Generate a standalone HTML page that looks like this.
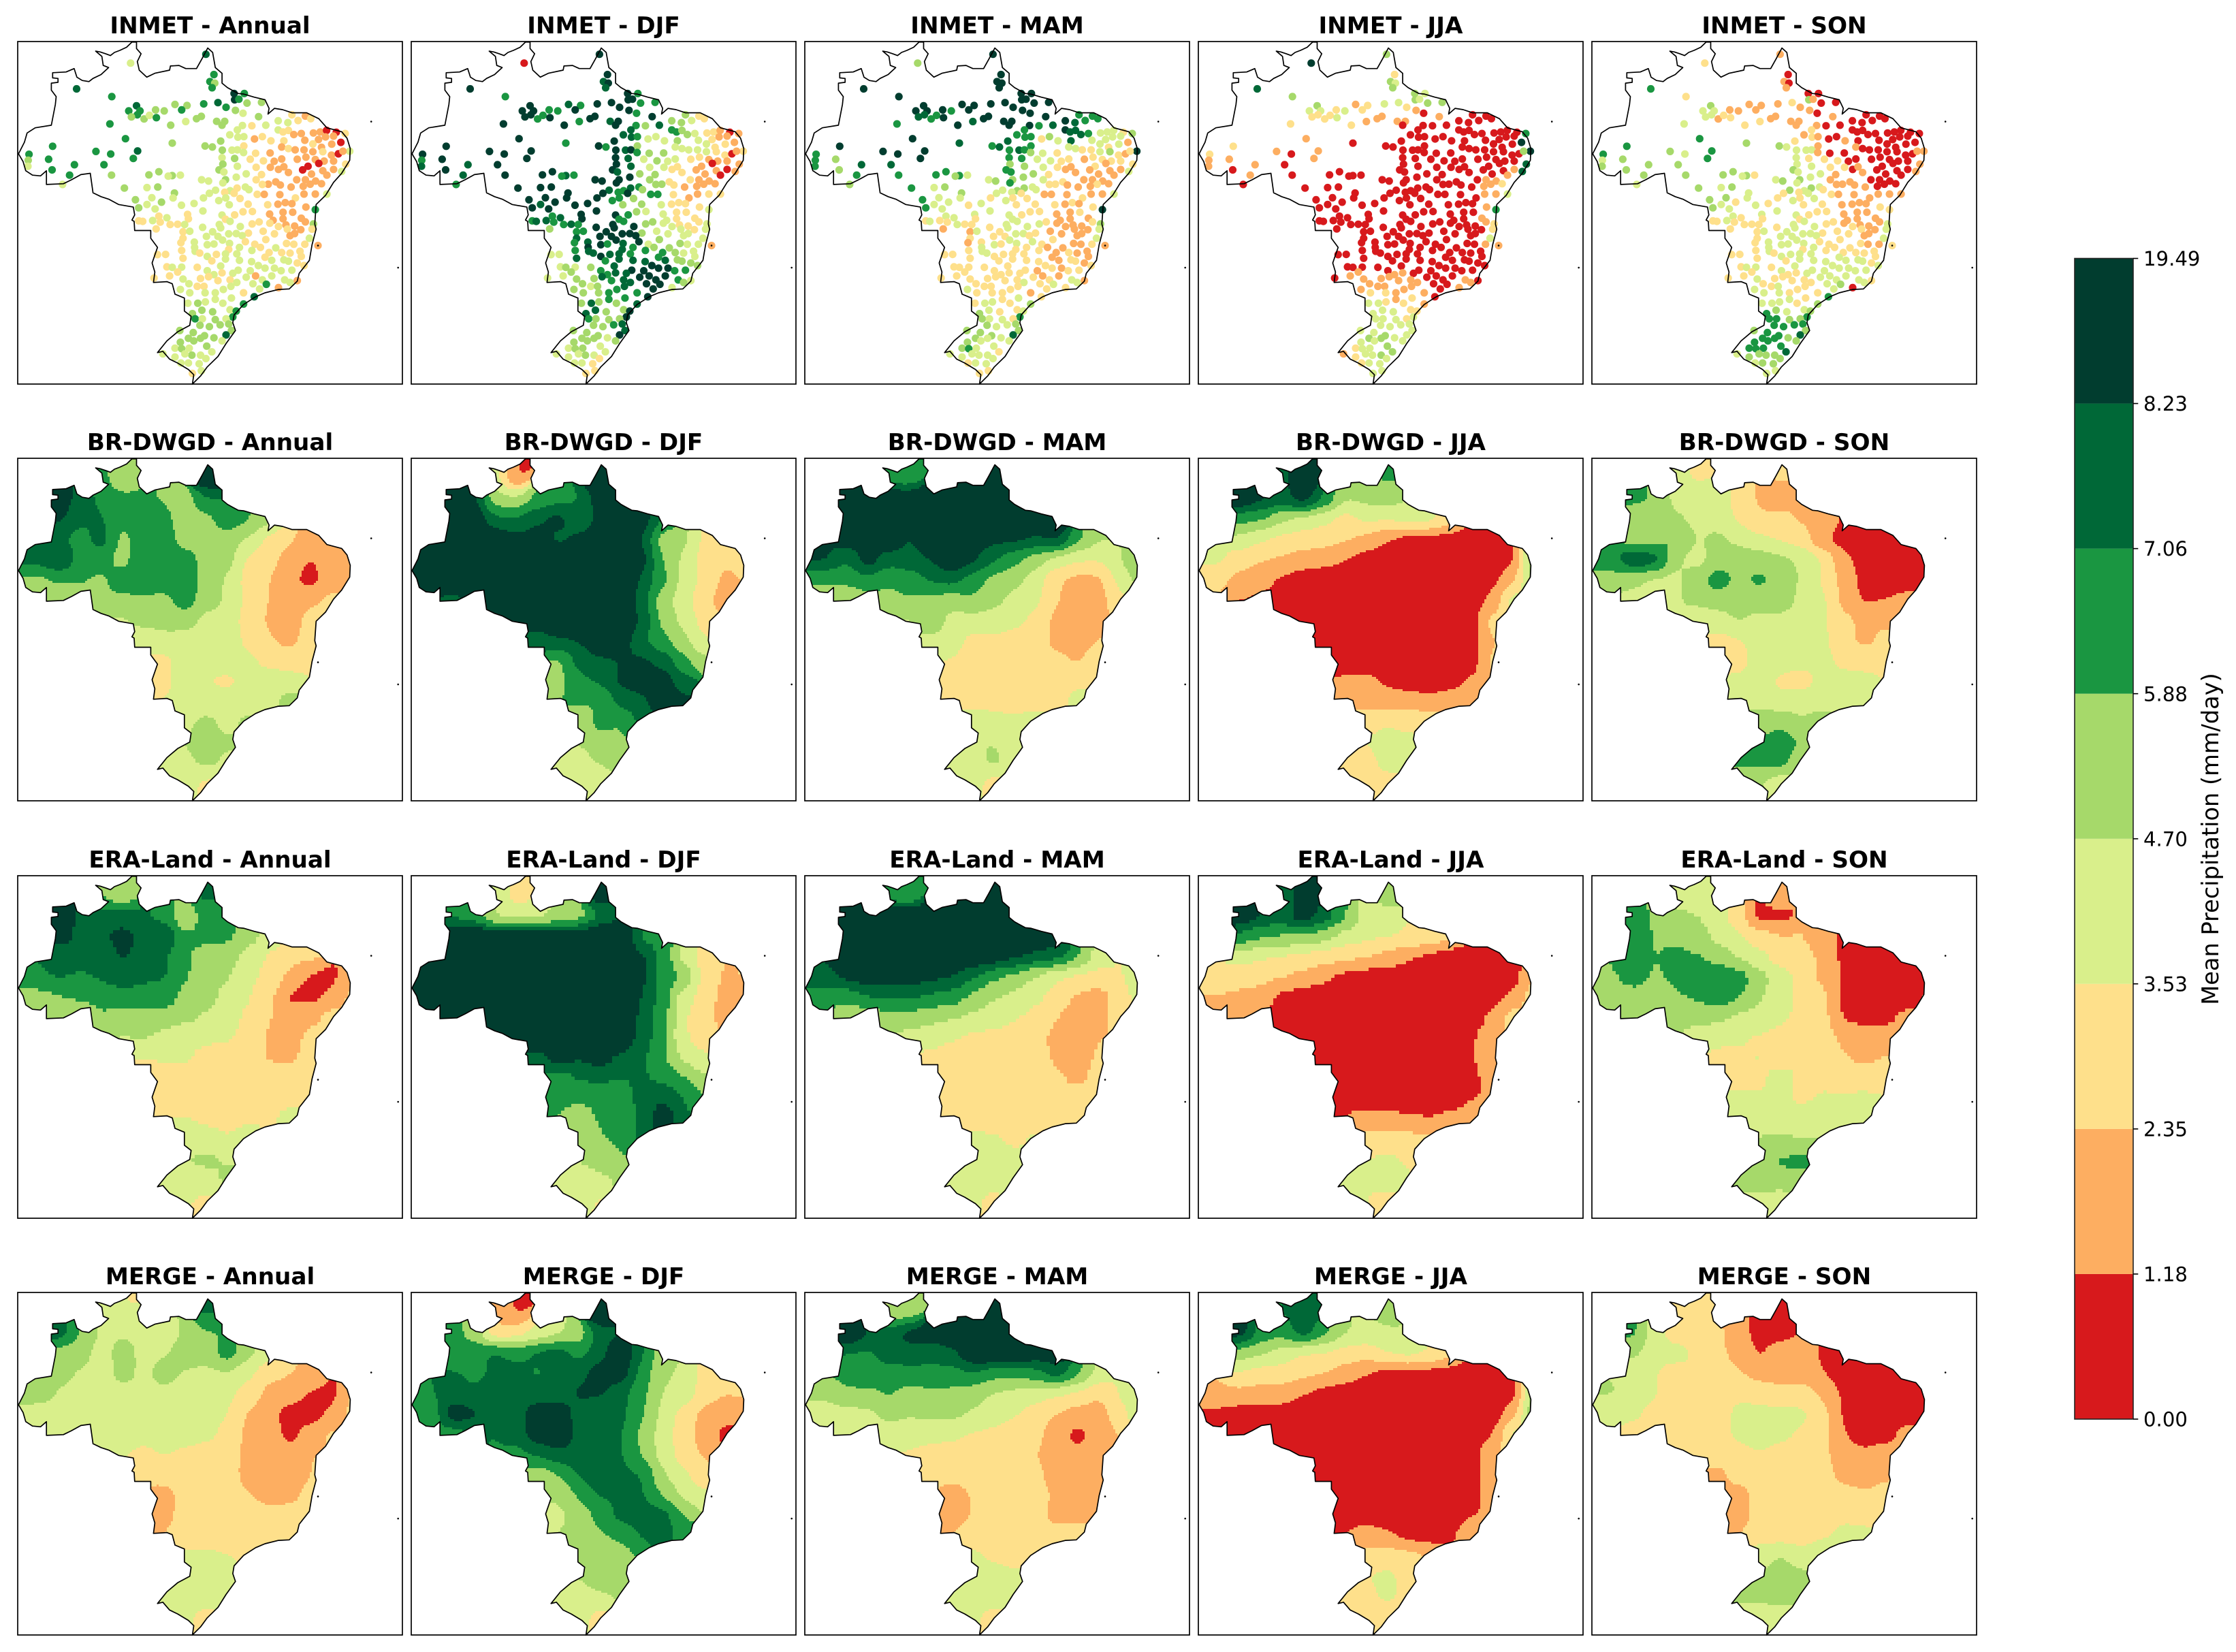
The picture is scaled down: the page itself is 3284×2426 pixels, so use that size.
<!DOCTYPE html>
<html lang="en">
<head>
<meta charset="utf-8">
<title>Mean Precipitation over Brazil</title>
<style>
html,body{margin:0;padding:0;background:#fff}
svg{display:block}
text{font-family:"DejaVu Sans","Liberation Sans",sans-serif;fill:#000}
.t{font-size:34.2px;font-weight:700;text-anchor:middle}
.f{fill:none;stroke:#000;stroke-width:1.7}
</style>
</head>
<body>
<svg id="chart" xmlns="http://www.w3.org/2000/svg" width="3284" height="2426" viewBox="0 0 3284 2426">
<defs>
<clipPath id="brazil-clip"><path id="brazil-clip-path"/></clipPath>
<clipPath id="frame-clip"><rect width="565" height="503"/></clipPath>
</defs>
<rect width="3284" height="2426" fill="#fff"/>

<g transform="translate(26 61)"><text class="t" x="282.5" y="-12">INMET - Annual</text><g id="inmet-annual"></g><rect class="f" width="565" height="503"/></g>
<g transform="translate(604 61)"><text class="t" x="282.5" y="-12">INMET - DJF</text><g id="inmet-djf"></g><rect class="f" width="565" height="503"/></g>
<g transform="translate(1182 61)"><text class="t" x="282.5" y="-12">INMET - MAM</text><g id="inmet-mam"></g><rect class="f" width="565" height="503"/></g>
<g transform="translate(1760 61)"><text class="t" x="282.5" y="-12">INMET - JJA</text><g id="inmet-jja"></g><rect class="f" width="565" height="503"/></g>
<g transform="translate(2338 61)"><text class="t" x="282.5" y="-12">INMET - SON</text><g id="inmet-son"></g><rect class="f" width="565" height="503"/></g>

<g transform="translate(26 673)"><text class="t" x="282.5" y="-12">BR-DWGD - Annual</text><g id="brdwgd-annual"></g><rect class="f" width="565" height="503"/></g>
<g transform="translate(604 673)"><text class="t" x="282.5" y="-12">BR-DWGD - DJF</text><g id="brdwgd-djf"></g><rect class="f" width="565" height="503"/></g>
<g transform="translate(1182 673)"><text class="t" x="282.5" y="-12">BR-DWGD - MAM</text><g id="brdwgd-mam"></g><rect class="f" width="565" height="503"/></g>
<g transform="translate(1760 673)"><text class="t" x="282.5" y="-12">BR-DWGD - JJA</text><g id="brdwgd-jja"></g><rect class="f" width="565" height="503"/></g>
<g transform="translate(2338 673)"><text class="t" x="282.5" y="-12">BR-DWGD - SON</text><g id="brdwgd-son"></g><rect class="f" width="565" height="503"/></g>

<g transform="translate(26 1286)"><text class="t" x="282.5" y="-12">ERA-Land - Annual</text><g id="era-annual"></g><rect class="f" width="565" height="503"/></g>
<g transform="translate(604 1286)"><text class="t" x="282.5" y="-12">ERA-Land - DJF</text><g id="era-djf"></g><rect class="f" width="565" height="503"/></g>
<g transform="translate(1182 1286)"><text class="t" x="282.5" y="-12">ERA-Land - MAM</text><g id="era-mam"></g><rect class="f" width="565" height="503"/></g>
<g transform="translate(1760 1286)"><text class="t" x="282.5" y="-12">ERA-Land - JJA</text><g id="era-jja"></g><rect class="f" width="565" height="503"/></g>
<g transform="translate(2338 1286)"><text class="t" x="282.5" y="-12">ERA-Land - SON</text><g id="era-son"></g><rect class="f" width="565" height="503"/></g>

<g transform="translate(26 1898)"><text class="t" x="282.5" y="-12">MERGE - Annual</text><g id="merge-annual"></g><rect class="f" width="565" height="503"/></g>
<g transform="translate(604 1898)"><text class="t" x="282.5" y="-12">MERGE - DJF</text><g id="merge-djf"></g><rect class="f" width="565" height="503"/></g>
<g transform="translate(1182 1898)"><text class="t" x="282.5" y="-12">MERGE - MAM</text><g id="merge-mam"></g><rect class="f" width="565" height="503"/></g>
<g transform="translate(1760 1898)"><text class="t" x="282.5" y="-12">MERGE - JJA</text><g id="merge-jja"></g><rect class="f" width="565" height="503"/></g>
<g transform="translate(2338 1898)"><text class="t" x="282.5" y="-12">MERGE - SON</text><g id="merge-son"></g><rect class="f" width="565" height="503"/></g>

<g id="colorbar"></g>
<text transform="translate(3258 1232) rotate(-90)" text-anchor="middle" style="font-size:33.6px">Mean Precipitation (mm/day)</text>
</svg>

<script>
// colour scale
const levelBounds=[0,1.18,2.35,3.53,4.70,5.88,7.06,8.23,19.49];
const colorbarTicks=["0.00","1.18","2.35","3.53","4.70","5.88","7.06","8.23","19.49"];
const levelColors=["#d7191c","#fdae61","#fee08b","#d9ef8b","#a6d96a","#1a9641","#006837","#013d2f"];

// basemap geography, in projected map units (easting / northing)
const outlineEast=[195,245,275,285,305,330,345,375,403,383,378,355,372,392,410,425,445,470,490,507,507,524,510,517,545,575,630,633,665,690,730,750,772,790,800,825,825,845,862,885,905,945,985,1000,996,1020,1050,1085,1140,1185,1215,1270,1290,1302,1300,1270,1240,1210,1175,1170,1175,1160,1150,1112,1105,1075,1035,985,950,905,870,865,875,840,810,770,745,715,720,700,660,630,605,585,620,660,705,710,685,685,650,640,620,570,575,565,585,560,560,500,498,490,500,495,440,405,375,345,335,300,265,235,172,172,150,120,95,85,68,90,100,130,190,205,208,190,190,215,215,195];
const outlineNorth=[278,275,262,295,308,312,300,285,258,250,215,195,198,205,212,200,192,180,160,160,185,205,235,268,295,280,268,252,250,262,262,225,183,200,258,280,318,335,345,358,360,372,382,415,437,415,420,432,432,455,490,505,530,570,615,665,700,750,785,860,880,940,1000,1050,1080,1110,1112,1125,1140,1170,1210,1240,1270,1320,1370,1410,1445,1476,1440,1420,1395,1380,1350,1355,1310,1275,1250,1215,1195,1145,1130,1090,1082,1085,1045,1010,950,915,885,885,850,845,825,795,785,765,755,740,665,670,690,705,708,655,675,672,655,620,590,545,510,490,480,400,370,345,318,315,300,298];
const islandEast=[1380,1182,1480];
const islandNorth=[466,943,1028];

// rainfall grid: columns present on each grid row (row 1 to 16)
const gridRowColumns=[[4,5,9],[2,3,4,5,6,7,8,9],[2,3,4,5,6,7,8,9,10,11,12],[2,3,4,5,6,7,8,9,10,11,12,13,14],[1,2,3,4,5,6,7,8,9,10,11,12,13,14,15,16],[1,2,3,4,5,6,7,8,9,10,11,12,13,14,15,16],[2,3,4,5,6,7,8,9,10,11,12,13,14,15],[5,6,7,8,9,10,11,12,13,14],[6,7,8,9,10,11,12,13,14],[7,8,9,10,11,12,13,14],[7,8,9,10,11,12,13],[8,9,10,11,12,13],[8,9,10,11],[9,10],[8,9,10],[8,9]];

// gridded precipitation, tenths of mm/day
const brdwgdAnnual=[[62,50,95],[90,78,68,62,60,58,52,70],[85,72,72,60,68,62,52,55,68,60,50],[72,66,76,55,66,66,52,52,52,46,32,24,22],[75,85,65,65,52,72,66,66,53,52,33,26,20,10,22,24],[55,60,60,56,68,72,66,68,53,46,30,24,14,7,20,22],[50,52,56,55,55,55,66,52,46,32,23,17,22,26],[45,52,53,52,43,42,30,22,18,28],[35,42,42,42,41,33,24,20,30],[32,42,40,40,38,32,30,33],[33,40,35,33,38,42,40],[40,40,40,42,44,52],[45,50,44,50],[52,48],[45,50,45],[40,32]];
const brdwgdDJF=[[40,10,100],[100,85,52,50,62,66,70,90],[100,95,72,72,80,88,72,85,100,90,70],[100,100,95,85,90,78,85,95,100,82,52,50,32],[100,100,100,100,100,100,100,100,90,100,88,58,45,30,26,28],[100,100,100,100,100,100,100,100,100,100,80,62,43,32,20,25],[75,90,95,100,100,100,100,100,100,75,52,40,26,18],[85,90,100,100,100,100,80,55,44,30],[75,80,82,95,90,72,62,50,35],[55,75,80,82,85,78,62,50],[55,68,72,85,90,90,75],[60,58,75,78,95,85],[52,62,58,75],[55,58],[42,48,55],[42,35]];
const brdwgdMAM=[[62,62,100],[100,100,100,95,100,100,100,100],[100,100,100,95,100,100,100,100,100,100,95],[90,85,95,80,95,100,90,85,85,80,85,62,48],[85,70,90,75,78,82,95,85,72,62,52,42,36,36,46,62],[58,62,68,60,64,72,75,65,55,50,42,24,20,20,38,52],[48,52,56,58,55,52,58,50,44,38,24,19,18,33],[45,60,42,42,42,38,33,20,17,20],[42,40,32,33,31,30,20,18,24],[35,30,30,30,30,27,22,31],[32,30,28,28,28,30,33],[34,30,28,28,30,40],[38,42,38,45],[47,42],[42,50,42],[40,30]];
const brdwgdJJA=[[78,95,60],[95,85,78,90,70,48,50,52],[62,60,48,42,38,30,38,36,42,40,28],[44,36,32,30,28,25,20,12,6,6,6,6,6],[38,28,24,22,18,16,12,6,4,4,4,4,4,4,8,60],[26,20,16,10,5,4,4,4,4,4,4,4,4,8,20,55],[11,10,5,4,4,4,4,4,4,4,4,4,14,42],[4,4,4,4,4,4,4,4,6,28],[4,4,4,4,4,4,4,6,24],[5,4,4,4,4,4,6,26],[14,16,10,5,4,6,14],[20,18,20,16,20,22],[30,34,30,32],[42,40],[30,40,38],[30,30]];
const brdwgdSON=[[40,33,24],[62,58,44,48,44,30,22,20],[50,52,48,44,42,34,24,26,22,20,10],[52,54,62,46,50,44,38,34,30,12,8,6,5],[68,82,78,48,42,52,55,54,50,46,36,14,8,5,5,6],[52,50,44,44,55,66,56,62,54,46,34,20,8,5,6,12],[42,40,46,50,52,52,52,54,44,38,20,10,12,16],[38,42,48,44,44,40,38,26,22,22],[31,34,40,42,42,38,26,21,26],[30,42,42,38,40,32,30,30],[38,42,32,30,38,40,40],[42,40,42,44,43,46],[54,56,48,52],[66,58],[62,64,50],[48,38]];
const eraAnnual=[[58,50,72],[95,78,74,76,72,66,48,66],[90,78,80,88,80,82,60,62,62,52,42],[72,72,74,84,76,72,60,54,52,42,34,28,26],[70,72,70,72,78,72,72,60,52,48,38,32,20,9,9,22],[52,58,60,62,64,66,66,54,50,44,36,26,9,9,14,28],[50,50,58,54,54,52,50,46,40,33,24,18,20,30],[46,48,44,38,36,36,32,22,18,28],[34,36,36,33,33,30,22,22,28],[31,34,32,31,32,30,28,31],[31,32,30,30,30,32,34],[36,33,30,33,34,38],[40,42,36,44],[50,46],[44,42,50],[36,33]];
const eraDJF=[[48,30,90],[68,62,45,40,42,48,52,70],[100,100,95,95,95,95,95,100,95,68,62],[100,100,100,100,100,100,100,100,100,85,68,42,30],[100,100,100,100,100,100,100,100,100,100,85,66,58,30,22,25],[100,100,100,100,100,100,100,100,100,100,82,65,40,30,18,14],[100,100,100,100,100,100,100,100,100,78,65,36,26,20],[100,100,100,100,100,95,78,62,36,30],[72,90,82,90,78,72,60,45,36],[62,72,72,70,72,68,60,50],[62,60,62,68,72,82,70],[52,60,66,72,95,70],[52,58,60,74],[52,58],[42,44,50],[38,34]];
const eraMAM=[[62,60,100],[100,100,100,95,100,100,100,100],[100,100,100,100,100,100,100,100,100,100,90],[100,100,100,100,100,100,95,90,85,78,75,62,42],[78,85,90,90,88,85,82,72,60,54,46,36,32,30,34,44],[62,62,70,72,72,68,65,56,48,44,38,30,22,18,28,42],[48,50,54,54,50,48,44,40,36,32,24,16,18,30],[42,40,36,33,32,30,28,20,13,24],[32,30,28,28,28,28,22,16,26],[28,28,28,28,28,26,20,28],[28,27,27,27,27,28,30],[30,28,26,28,30,34],[38,38,32,38],[44,40],[42,46,42],[38,30]];
const eraJJA=[[72,90,50],[95,82,76,92,78,60,42,44],[66,60,58,56,52,42,38,36,34,34,26],[40,36,34,32,28,26,24,20,13,8,5,5,5],[32,30,27,24,20,14,8,5,4,4,4,4,4,4,6,24],[22,20,18,8,4,4,4,4,4,4,4,4,4,6,15,30],[12,12,6,4,4,4,4,4,4,4,4,4,15,30],[4,4,4,4,4,4,4,4,10,20],[4,4,4,4,4,4,4,10,22],[4,4,4,4,4,4,6,20],[8,6,4,4,4,4,12],[18,16,14,12,16,20],[28,30,28,26],[38,34],[36,42,36],[36,30]];
const eraSON=[[42,38,22],[66,56,50,48,40,30,6,8],[66,58,56,52,44,36,30,24,24,16,10],[66,58,62,60,54,46,38,30,28,22,9,7,5],[58,62,58,60,66,68,66,52,40,32,20,10,7,5,5,8],[55,56,54,58,60,66,60,48,40,33,28,9,8,5,6,14],[50,50,50,50,50,44,42,36,34,28,10,8,8,16],[42,38,36,34,33,33,28,22,18,20],[32,34,36,32,36,32,24,20,24],[34,34,38,34,34,32,30,32],[36,36,36,34,36,36,38],[40,40,38,42,44,46],[48,50,46,48],[60,62],[54,56,56],[44,38]];
const mergeAnnual=[[44,35,72],[78,58,45,46,44,42,48,58],[52,52,42,52,44,46,52,52,66,50,40],[50,46,40,52,44,52,46,44,46,38,26,24,22],[54,46,44,42,42,44,44,40,40,38,30,20,18,10,8,26],[40,40,38,40,40,38,44,40,38,36,22,16,6,6,14,28],[38,38,38,40,38,40,40,38,33,20,18,8,18,26],[36,33,36,33,30,29,20,17,16,24],[24,28,28,28,28,20,18,18,24],[19,28,28,28,24,20,22,26],[20,28,28,28,28,27,26],[30,30,28,28,29,28],[37,38,36,33],[44,40],[42,44,40],[38,30]];
const mergeDJF=[[20,10,100],[62,55,26,30,38,44,52,76],[62,66,74,66,74,78,66,78,95,72,50],[72,68,72,78,68,76,80,88,90,66,48,46,30],[70,76,72,78,78,78,76,84,84,74,62,46,44,28,24,26],[62,92,85,72,78,88,90,78,72,74,60,44,30,20,16,14],[62,72,70,76,90,95,78,72,72,56,42,28,18,8],[66,72,78,80,72,72,58,42,30,22],[50,58,72,80,72,72,48,38,26],[48,60,72,72,72,58,44,38],[44,52,62,75,78,76,58],[52,58,60,72,80,62],[50,52,54,60],[52,52],[44,46,48],[40,30]];
const mergeMAM=[[46,52,100],[100,82,76,88,90,95,100,100],[70,68,76,78,74,78,95,100,100,90,90],[62,66,66,66,68,66,70,62,60,66,78,62,44],[50,58,56,60,54,56,56,52,46,44,40,36,33,24,36,48],[40,42,44,50,48,50,50,46,40,36,30,23,18,18,30,46],[40,40,42,40,38,38,34,33,30,27,17,8,16,24],[34,32,30,28,28,27,24,17,14,20],[28,26,27,28,27,27,18,12,20],[19,24,27,27,28,22,17,22],[18,24,26,26,27,20,20],[30,26,25,28,28,30],[38,34,30,36],[40,38],[42,44,38],[38,30]];
const mergeJJA=[[70,80,50],[90,66,62,78,62,48,44,46],[52,48,42,34,34,30,28,36,40,36,28],[34,30,30,26,24,18,12,6,6,6,5,5,5],[22,20,18,18,12,7,5,4,4,4,4,4,4,4,5,55],[8,6,6,6,4,4,4,4,4,4,4,4,4,5,18,60],[5,5,4,4,4,4,4,4,4,4,4,4,10,40],[4,4,4,4,4,4,4,4,4,24],[4,4,4,4,4,4,4,4,24],[4,4,4,4,4,4,4,24],[7,5,4,4,4,4,12],[20,14,8,6,10,20],[26,30,28,24],[38,32],[32,38,32],[30,26]];
const mergeSON=[[30,24,8],[62,40,30,30,26,16,8,8],[50,38,40,34,26,20,10,18,20,10,6],[38,36,30,34,30,24,20,18,18,12,6,5,5],[48,44,36,30,36,30,34,30,28,30,22,10,5,4,4,6],[38,38,30,34,30,30,38,40,38,38,28,10,5,4,5,12],[30,30,30,28,30,38,44,38,34,28,12,6,6,18],[28,28,30,34,30,30,26,18,14,20],[20,28,30,30,30,28,20,16,22],[18,28,30,33,30,28,26,28],[18,28,28,28,30,34,32],[30,30,30,34,38,38],[42,48,40,44],[54,50],[50,54,48],[40,36]];

// INMET station locations, projected map units
const stationEast=[765,485,795,780,798,788,284,
415,870,908,872,888,918,972,507,650,695,757,810,840,
478,520,510,488,578,610,675,535,555,581,875,903,961,1034,1070,1108,1135,1155,690,730,748,805,835,825,408,634,901,936,988,1085,
882,854,884,906,946,975,1007,1034,1052,1072,1055,1092,1120,1133,1165,1190,1214,1250,1283,1210,1240,1184,1267,466,195,820,640,762,789,906,1163,1233,1195,
107,104,103,180,276,193,356,411,511,495,386,826,862,882,905,950,1004,1047,1072,1097,1130,1163,1200,1232,1258,1300,1275,825,872,930,979,1019,1047,1105,1137,1172,1205,1240,1285,1185,828,882,952,
1005,1035,1055,1145,1125,1200,1240,1270,814,832,553,590,640,625,670,414,258,878,915,972,1072,1158,1215,749,775,838,828,952,1025,1103,1135,1173,1195,997,1042,1153,232,975,
462,546,586,881,912,925,855,1082,1127,801,778,835,870,648,956,982,1040,1130,1172,1215,564,643,756,839,892,1098,503,600,721,546,674,813,852,922,995,1033,1060,1085,1172,1137,
515,576,754,903,938,1002,1052,1088,697,825,872,620,700,590,838,1120,1052,1015,1135,515,530,567,595,855,937,963,1165,632,660,686,815,893,1003,1063,1095,753,820,1035,580,680,978,1118,1068,705,790,
850,878,923,1020,1078,1095,1160,1150,680,767,810,900,827,988,912,722,672,770,795,853,947,1065,1092,1133,723,890,968,1025,675,725,850,936,1047,1078,1115,1182,585,615,742,804,838,880,1000,770,985,1120,680,838,890,1055,
787,935,1010,1072,1105,1130,960,820,620,640,675,733,985,1020,770,885,930,1045,1085,660,825,865,950,1010,630,795,745,775,680,855,915,1058,572,810,1105,975,
702,880,940,990,1035,1078,733,758,858,965,670,705,830,905,762,800,945,860,800,735,698,763,828,905,855,790,878,750,715,
725,865,752,800,840,743,778,818,850,668,718,860,760,840,795,700,745,825,670,720,
768,650,675,703,787,745,713,687,650,765,700,740,672,748,605,715];
const stationNorth=[207,241,285,312,318,336,340,
370,358,358,382,380,395,392,405,400,404,398,393,411,
425,425,440,448,421,425,421,456,442,451,423,434,447,463,470,462,445,455,466,455,446,465,465,480,475,480,481,482,480,440,
498,517,526,524,533,524,540,498,506,500,540,516,512,538,510,506,500,507,512,525,522,535,546,532,561,541,549,560,564,560,552,553,565,
592,615,638,611,632,652,581,591,579,608,632,576,576,575,585,588,587,564,570,575,575,582,582,595,590,580,580,605,608,611,617,619,610,611,603,612,618,618,630,627,630,638,642,
642,650,640,638,652,655,650,658,652,660,671,659,674,676,672,672,672,680,667,670,662,668,672,690,695,690,702,690,698,690,690,695,705,707,710,707,708,708,
722,720,718,722,718,728,732,718,715,730,742,738,742,741,746,746,747,745,745,745,759,760,760,760,762,760,767,776,781,785,788,770,786,784,786,784,778,782,805,795,
798,802,810,813,812,822,815,815,823,826,825,836,840,830,842,838,840,846,852,848,850,847,853,850,860,852,860,862,861,862,862,870,857,864,868,873,875,870,879,890,888,882,880,888,890,
898,897,895,898,905,897,880,915,915,908,908,905,922,920,928,930,932,940,937,935,938,935,938,938,950,950,950,952,962,965,958,962,970,972,965,943,978,977,972,977,975,975,970,985,988,985,992,995,1000,998,
1002,1005,1000,1003,1010,1020,1020,1022,1025,1027,1026,1027,1030,1030,1040,1038,1040,1040,1038,1045,1048,1050,1060,1060,1060,1055,1070,1063,1072,1075,1065,1075,1068,1078,1078,1075,
1090,1085,1090,1092,1105,1085,1100,1100,1100,1110,1112,1125,1112,1125,1125,1125,1140,1145,1150,1165,1165,1160,1165,1168,1190,1198,1195,1192,1205,
1225,1218,1225,1228,1225,1250,1255,1248,1245,1270,1278,1270,1290,1287,1298,1300,1300,1310,1315,1310,
1330,1338,1340,1338,1352,1365,1365,1360,1372,1378,1395,1398,1395,1425,1360,1435];

// INMET station mean precipitation per period, tenths of mm/day
const inmetAnnual=[76,41,65,65,53,65,76,
65,95,65,95,65,53,53,76,53,53,65,76,65,
65,65,65,53,53,53,65,53,41,65,53,41,53,41,41,29,18,29,41,53,53,53,53,53,65,53,41,29,41,29,
41,41,41,41,18,29,29,41,29,29,29,18,18,18,18,18,6,6,29,18,18,18,6,65,65,53,53,53,53,29,29,18,18,
65,53,41,65,65,65,65,65,76,65,65,53,41,41,41,29,18,18,29,18,18,18,29,18,6,41,18,41,53,29,29,18,18,18,18,18,18,18,29,6,53,41,29,
18,18,18,6,6,18,18,41,53,41,53,53,53,41,41,53,65,41,41,29,18,18,18,41,41,53,41,29,18,18,18,18,18,18,18,18,41,29,
53,41,53,29,41,41,41,18,18,41,41,29,29,53,29,18,18,18,18,41,41,41,41,41,29,29,53,53,41,41,41,41,41,29,29,18,18,18,65,18,
53,41,41,29,29,18,18,18,29,41,29,41,29,29,29,18,18,18,18,29,29,41,29,41,29,29,53,29,29,41,41,41,29,18,18,41,41,29,29,29,29,18,29,41,41,
41,41,29,29,18,18,29,41,29,41,41,41,41,29,29,41,29,41,41,41,29,29,29,29,41,41,29,41,29,41,29,41,29,29,29,18,29,29,29,29,41,41,29,41,29,29,29,41,41,41,
29,41,41,41,29,29,41,41,29,41,41,29,41,41,41,41,41,41,41,29,29,41,18,41,29,41,29,29,41,29,41,41,29,29,18,41,
41,41,41,65,18,41,29,29,41,41,41,41,41,29,41,41,76,41,41,53,41,41,41,65,41,53,65,53,53,
65,65,41,53,41,53,53,53,53,53,53,53,53,76,53,53,53,41,53,53,
53,41,53,41,41,41,53,41,41,41,41,41,41,41,41,29];
const inmetDJF=[95,6,95,76,95,76,95,
65,95,65,95,95,65,65,95,76,65,95,95,95,
95,95,95,95,65,65,95,65,65,95,95,65,95,53,53,41,29,29,65,95,95,76,95,95,95,95,65,53,76,53,
76,76,76,65,41,41,41,65,65,53,53,53,41,41,29,29,18,6,18,18,18,29,18,95,95,95,65,95,65,53,41,29,29,
95,65,76,95,76,95,95,95,95,95,95,95,76,95,65,53,53,41,41,41,41,41,29,29,6,29,18,95,76,41,53,41,41,29,29,18,18,18,18,6,95,76,41,
41,29,29,18,18,18,6,18,95,76,95,95,76,65,65,95,76,95,53,53,29,18,6,95,95,95,95,53,29,29,18,18,18,53,29,18,65,53,
95,95,95,76,65,53,65,18,18,76,95,65,95,95,65,65,29,18,29,29,95,95,95,65,53,18,95,95,95,76,95,65,53,53,41,29,29,29,41,29,
95,95,95,53,41,41,29,29,95,95,65,76,95,65,65,29,29,41,29,65,76,76,65,65,53,53,41,65,76,65,95,95,41,29,29,95,95,41,53,65,41,29,41,65,95,
95,95,53,41,41,41,41,41,76,95,95,95,95,53,95,76,65,95,65,76,41,53,41,41,95,65,53,53,65,76,76,65,53,41,41,18,41,41,76,76,76,65,65,95,65,41,76,76,76,53,
65,76,76,53,53,53,95,76,41,53,41,53,95,95,65,95,95,65,65,53,76,76,95,95,41,65,53,76,53,76,95,65,41,65,41,95,
53,76,95,95,41,53,41,53,76,95,53,53,65,65,53,65,95,65,65,76,53,53,53,76,53,53,95,76,76,
65,95,53,53,53,53,53,65,76,53,53,76,53,95,41,53,53,53,53,53,
41,41,53,53,41,41,53,41,41,29,41,29,41,29,41,29];
const inmetMAM=[95,53,95,95,95,95,95,
95,95,95,95,95,95,95,95,95,95,95,95,95,
95,95,76,76,95,65,95,65,65,95,95,95,95,95,76,65,65,65,76,95,95,95,95,95,65,95,95,65,76,65,
65,65,65,65,29,53,41,95,76,76,76,76,65,41,41,41,41,29,53,41,41,41,18,95,95,76,76,65,76,65,41,41,29,
65,65,65,53,76,53,95,95,95,95,76,65,76,65,53,41,29,41,41,29,29,41,53,29,18,95,29,65,65,41,41,29,29,18,29,29,29,29,29,18,53,53,41,
29,18,18,29,18,18,18,41,65,65,65,65,65,53,41,65,65,53,53,29,18,18,18,41,53,53,65,41,29,18,18,18,18,29,18,29,53,29,
65,41,53,53,41,41,53,18,18,41,41,41,29,53,18,18,18,18,18,41,41,41,29,29,29,29,65,41,41,41,29,41,29,29,29,18,29,18,95,29,
65,41,41,29,29,18,18,29,41,41,29,41,29,41,41,18,18,18,29,29,41,29,29,41,41,29,53,41,29,29,41,41,18,18,18,29,41,18,18,18,18,18,18,41,29,
41,41,29,18,18,18,41,41,29,29,29,29,41,29,41,29,18,41,29,41,29,18,18,29,41,29,18,18,29,41,29,29,29,18,18,18,29,29,41,29,29,29,18,29,18,18,29,29,29,29,
29,29,18,29,18,29,29,29,29,29,29,29,29,18,29,29,18,29,29,29,29,29,18,18,29,29,29,29,29,29,29,41,29,29,18,29,
29,41,29,41,29,41,29,29,29,29,41,29,29,18,29,29,29,41,29,41,29,41,29,53,29,29,41,41,53,
53,65,41,41,29,53,41,41,53,53,53,53,53,76,41,53,41,41,53,41,
41,53,65,41,29,41,41,41,41,41,41,41,29,29,41,29];
const inmetJJA=[53,95,29,53,41,53,76,
53,53,41,53,41,53,53,53,18,29,41,41,29,
41,41,29,29,29,41,29,29,29,41,18,6,18,6,6,6,6,6,18,18,18,18,18,6,29,29,6,6,6,6,
6,6,6,6,6,6,6,6,6,6,6,6,6,6,6,6,6,6,65,6,6,6,95,18,29,6,6,6,6,6,6,6,6,
29,18,18,18,18,6,18,6,18,18,6,6,6,6,6,6,6,6,6,6,6,6,6,6,6,95,53,6,6,6,6,6,6,6,6,6,6,6,76,6,6,6,6,
6,6,6,6,6,6,18,76,6,6,6,6,6,6,6,6,18,6,6,6,6,6,18,6,6,6,6,6,6,6,18,18,29,6,6,18,6,6,
6,6,6,6,6,6,6,6,18,6,6,6,6,6,6,6,6,18,18,41,6,6,6,6,6,6,6,6,6,6,6,6,6,6,6,6,6,6,65,18,
6,6,6,6,6,6,6,6,6,6,6,6,6,6,6,18,6,6,18,6,6,6,6,6,6,6,29,6,6,6,6,6,6,6,6,6,6,6,6,6,6,6,6,6,6,
6,6,6,6,6,6,29,41,6,6,6,6,6,6,6,6,6,6,6,6,6,6,6,18,6,6,6,6,6,6,6,6,6,6,6,18,6,6,6,6,6,6,6,6,6,6,6,6,6,6,
6,6,6,6,6,6,6,6,6,6,6,6,6,6,6,6,6,6,6,18,18,6,6,6,18,18,18,18,18,18,6,18,6,18,6,6,
18,18,6,6,18,18,18,18,18,6,18,29,18,18,29,18,6,29,18,41,41,29,29,18,29,41,29,41,41,
41,41,41,41,29,41,41,41,41,41,41,41,53,41,41,53,53,41,41,41,
53,29,41,41,53,53,41,41,29,41,41,41,29,41,18,41];
const inmetSON=[18,29,6,18,6,18,65,
29,6,6,53,18,6,6,53,18,18,18,29,18,
41,41,41,41,18,18,18,18,29,29,18,6,18,6,6,6,6,6,29,18,18,18,18,18,41,29,18,6,6,6,
29,18,29,18,6,6,18,6,6,6,6,6,6,6,6,6,6,6,6,6,6,6,6,65,65,29,53,53,41,18,6,6,6,
65,41,53,53,53,53,53,41,65,65,53,41,41,41,18,6,6,18,6,6,6,6,6,6,6,18,18,41,29,29,29,6,6,6,6,6,6,6,18,6,41,41,29,
29,6,18,6,6,6,6,18,53,41,53,53,53,41,29,53,53,41,41,18,18,6,6,41,53,53,41,18,18,6,6,6,6,18,18,6,41,18,
53,41,53,53,41,29,41,18,6,53,29,29,41,41,29,18,18,18,18,18,53,41,29,29,41,18,53,29,29,41,41,41,29,29,18,18,18,18,29,29,
53,41,41,29,29,18,18,18,41,41,29,29,29,41,29,18,18,18,18,29,29,41,29,41,29,29,41,29,29,29,41,41,18,18,18,29,41,29,29,29,29,18,29,41,41,
41,41,29,29,18,18,41,41,29,41,41,41,41,29,29,41,29,41,41,41,29,29,18,18,41,41,29,29,29,41,29,29,29,29,29,29,29,29,29,41,41,41,29,41,41,29,29,41,41,41,
29,41,41,41,29,41,41,41,29,41,41,29,41,41,41,41,41,41,41,29,29,41,41,41,29,29,29,29,41,29,41,41,29,29,29,41,
29,29,41,53,6,41,29,41,29,41,41,41,29,29,41,29,65,29,41,41,41,41,29,53,41,41,53,53,65,
65,65,65,53,53,65,65,65,65,53,65,53,65,76,53,65,65,53,65,65,
65,65,65,65,76,53,53,53,53,53,53,53,41,41,41,41];

const rasterPanels=[
  ["brdwgd-annual",brdwgdAnnual,3],["brdwgd-djf",brdwgdDJF,3],["brdwgd-mam",brdwgdMAM,3],["brdwgd-jja",brdwgdJJA,3],["brdwgd-son",brdwgdSON,3],
  ["era-annual",eraAnnual,5],["era-djf",eraDJF,5],["era-mam",eraMAM,5],["era-jja",eraJJA,5],["era-son",eraSON,5],
  ["merge-annual",mergeAnnual,3],["merge-djf",mergeDJF,3],["merge-mam",mergeMAM,3],["merge-jja",mergeJJA,3],["merge-son",mergeSON,3]
];
const stationPanels=[["inmet-annual",inmetAnnual],["inmet-djf",inmetDJF],["inmet-mam",inmetMAM],["inmet-jja",inmetJJA],["inmet-son",inmetSON]];

const SVGNS="http://www.w3.org/2000/svg";
const panelW=565,panelH=503;
const eastMin=65,eastSpan=1431,northMin=158,northSpan=1318,gridStep=78,kernel=36;

function axisX(e){return (e-eastMin)/eastSpan*panelW;}
function axisY(n){return (n-northMin)/northSpan*panelH;}
function invX(x){return x/panelW*eastSpan+eastMin;}
function invY(y){return y/panelH*northSpan+northMin;}
function levelOf(tenths){
  const mm=tenths/10;
  let k=0;
  while(k<levelColors.length-1&&mm>=levelBounds[k+1])k++;
  return k;
}

const nodes=[];
gridRowColumns.forEach(function(cols,r){
  cols.forEach(function(c){
    nodes.push({e:eastMin+gridStep*c,n:northMin+gridStep*(r+1)});
  });
});

function outlinePath(){
  let d="";
  const count=Math.min(outlineEast.length,outlineNorth.length);
  for(let i=0;i<count;i++){
    d+=(i?"L":"M")+axisX(outlineEast[i]).toFixed(1)+" "+axisY(outlineNorth[i]).toFixed(1);
  }
  return d+"Z";
}
const brazilD=outlinePath();
document.getElementById("brazil-clip-path").setAttribute("d",brazilD);

function addBasemap(group){
  const line=document.createElementNS(SVGNS,"path");
  line.setAttribute("d",brazilD);
  line.setAttribute("fill","none");
  line.setAttribute("stroke","#000");
  line.setAttribute("stroke-width","1.7");
  line.setAttribute("stroke-linejoin","round");
  
  
  group.appendChild(line);
  islandEast.forEach(function(e,i){
    const dot=document.createElementNS(SVGNS,"circle");
    dot.setAttribute("cx",axisX(e));
    dot.setAttribute("cy",axisY(islandNorth[i]));
    dot.setAttribute("r","1.3");
    dot.setAttribute("fill","#000");
    
    
    group.appendChild(dot);
  });
}

function drawRaster(group,grid,cell){
  const vals=grid.flat();
  const runs=levelColors.map(function(){return [];});
  const reach=gridStep*3;
  const twoS=2*kernel*kernel;
  const maxX=Math.ceil(axisX(1320));
  for(let y=0;y<panelH;y+=cell){
    const nv=invY(y+cell/2);
    const near=[];
    nodes.forEach(function(nd,i){
      if(Math.abs(nd.n-nv)<reach&&vals[i]!=null)near.push([nd.e,(nd.n-nv)*(nd.n-nv),vals[i]]);
    });
    let cur=-1,start=0;
    for(let x=0;x<=maxX;x+=cell){
      const ev=invX(x+cell/2);
      let sw=0,sv=0;
      for(let k=0;k<near.length;k++){
        const dx=near[k][0]-ev;
        const w=Math.exp(-(dx*dx+near[k][1])/twoS);
        sw+=w;sv+=w*near[k][2];
      }
      const lev=sw>1e-12?levelOf(sv/sw):-1;
      if(lev!==cur){
        if(cur>=0)runs[cur].push("M"+start+" "+y+"h"+(x-start)+"v"+cell+"h"+(start-x)+"z");
        cur=lev;start=x;
      }
    }
    if(cur>=0)runs[cur].push("M"+start+" "+y+"h"+(maxX+cell-start)+"v"+cell+"h"+(start-maxX-cell)+"z");
  }
  const clipped=document.createElementNS(SVGNS,"g");
  clipped.setAttribute("clip-path","url(#brazil-clip)");
  
  
  runs.forEach(function(list,k){
    if(!list.length)return;
    const band=document.createElementNS(SVGNS,"path");
    band.setAttribute("d",list.join(""));
    band.setAttribute("fill",levelColors[k]);
    band.setAttribute("shape-rendering","crispEdges");
    
    
    clipped.appendChild(band);
  });
  group.appendChild(clipped);
}

function drawStations(group,values){
  const clipped=document.createElementNS(SVGNS,"g");
  clipped.setAttribute("clip-path","url(#frame-clip)");
  
  
  stationEast.forEach(function(e,i){
    if(values[i]==null||stationNorth[i]==null)return;
    const dot=document.createElementNS(SVGNS,"circle");
    dot.setAttribute("cx",axisX(e).toFixed(1));
    dot.setAttribute("cy",axisY(stationNorth[i]).toFixed(1));
    dot.setAttribute("r","5.6");
    dot.setAttribute("fill",levelColors[levelOf(values[i])]);
    
    
    clipped.appendChild(dot);
  });
  group.appendChild(clipped);
}

stationPanels.forEach(function(p){
  const g=document.getElementById(p[0]);
  drawStations(g,p[1]);
  addBasemap(g);
});
rasterPanels.forEach(function(p){
  const g=document.getElementById(p[0]);
  drawRaster(g,p[1],p[2]);
  addBasemap(g);
});

// colour bar
const cbar=document.getElementById("colorbar");
const cbLeft=3047,cbRight=3133,cbTop=379.5,cbBottom=2084;
function colorbarY(index){return cbBottom-(cbBottom-cbTop)*index/levelColors.length;}
levelColors.forEach(function(col,i){
  const seg=document.createElementNS(SVGNS,"rect");
  seg.setAttribute("x",cbLeft);
  seg.setAttribute("y",colorbarY(i+1));
  seg.setAttribute("width",cbRight-cbLeft);
  seg.setAttribute("height",colorbarY(i)-colorbarY(i+1));
  seg.setAttribute("fill",col);
  
  
  cbar.appendChild(seg);
});
const cbFrame=document.createElementNS(SVGNS,"rect");
cbFrame.setAttribute("x",cbLeft);
cbFrame.setAttribute("y",cbTop);
cbFrame.setAttribute("width",cbRight-cbLeft);
cbFrame.setAttribute("height",cbBottom-cbTop);
cbFrame.setAttribute("fill","none");
cbFrame.setAttribute("stroke","#222");
cbFrame.setAttribute("stroke-width","1.6");


cbar.appendChild(cbFrame);
colorbarTicks.forEach(function(label,i){
  const y=colorbarY(i);
  const tick=document.createElementNS(SVGNS,"line");
  tick.setAttribute("x1",cbRight);
  tick.setAttribute("x2",cbRight+7.3);
  tick.setAttribute("y1",y);
  tick.setAttribute("y2",y);
  tick.setAttribute("stroke","#000");
  tick.setAttribute("stroke-width","1.6");
  
  
  cbar.appendChild(tick);
  const txt=document.createElementNS(SVGNS,"text");
  txt.setAttribute("x",3148);
  txt.setAttribute("y",y+10.6);
  txt.setAttribute("style","font-size:29.17px");
  
  
  txt.textContent=label;
  cbar.appendChild(txt);
});
</script>
</body>
</html>
